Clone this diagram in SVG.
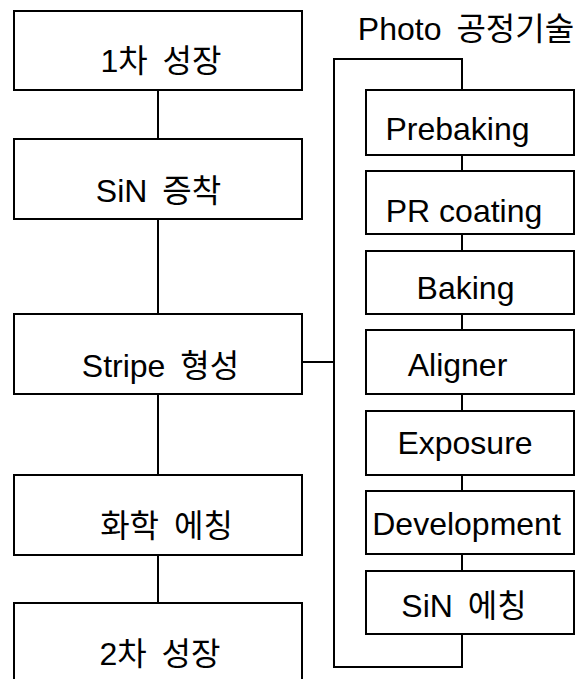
<svg xmlns="http://www.w3.org/2000/svg" width="582" height="679" viewBox="0 0 582 679">
<style>
.box{fill:#fff;stroke:#000;stroke-width:2}
.ln{fill:none;stroke:#000;stroke-width:2}
text{font-family:"Liberation Sans","Noto Sans CJK KR",sans-serif;font-size:32px;fill:#000;text-anchor:middle}
.ko{word-spacing:6px}
</style>
<rect width="582" height="679" fill="#fff"/>
<g id="connectors">
<path class="ln" d="M158 90V139M158 219V314M158 394V475M158 555V603"/>
<path class="ln" d="M302 362H334"/>
<path class="ln" d="M462 90V59H334V667H462V634"/>
<path class="ln" d="M462 155V171M462 234V251M462 314V330M462 394V411M462 475V491M462 554V571"/>
</g>
<g id="title"><text class="ko" x="466" y="40">Photo 공정기술</text></g>
<g id="n1"><rect class="box" x="14" y="11" width="288" height="79"/><text class="ko" x="161" y="72">1차 성장</text></g>
<g id="n2"><rect class="box" x="14" y="139" width="288" height="80"/><text class="ko" x="158.5" y="202">SiN 증착</text></g>
<g id="n3"><rect class="box" x="14" y="314" width="288" height="80"/><text class="ko" x="160.5" y="377">Stripe 형성</text></g>
<g id="n4"><rect class="box" x="14" y="475" width="288" height="80"/><text class="ko" x="166.5" y="537">화학 에칭</text></g>
<g id="n5"><rect class="box" x="14" y="603" width="288" height="100"/><text class="ko" x="160" y="665">2차 성장</text></g>
<g id="p1"><rect class="box" x="366" y="90" width="208" height="65"/><text x="457.5" y="140">Prebaking</text></g>
<g id="p2"><rect class="box" x="366" y="171" width="208" height="63"/><text x="464" y="222">PR coating</text></g>
<g id="p3"><rect class="box" x="366" y="251" width="208" height="63"/><text x="465.5" y="299">Baking</text></g>
<g id="p4"><rect class="box" x="366" y="330" width="208" height="64"/><text x="457.5" y="376">Aligner</text></g>
<g id="p5"><rect class="box" x="366" y="411" width="208" height="64"/><text x="465" y="454">Exposure</text></g>
<g id="p6"><rect class="box" x="366" y="491" width="208" height="63"/><text x="466.5" y="535">Development</text></g>
<g id="p7"><rect class="box" x="366" y="571" width="208" height="63"/><text class="ko" x="464" y="617">SiN 에칭</text></g>
</svg>
